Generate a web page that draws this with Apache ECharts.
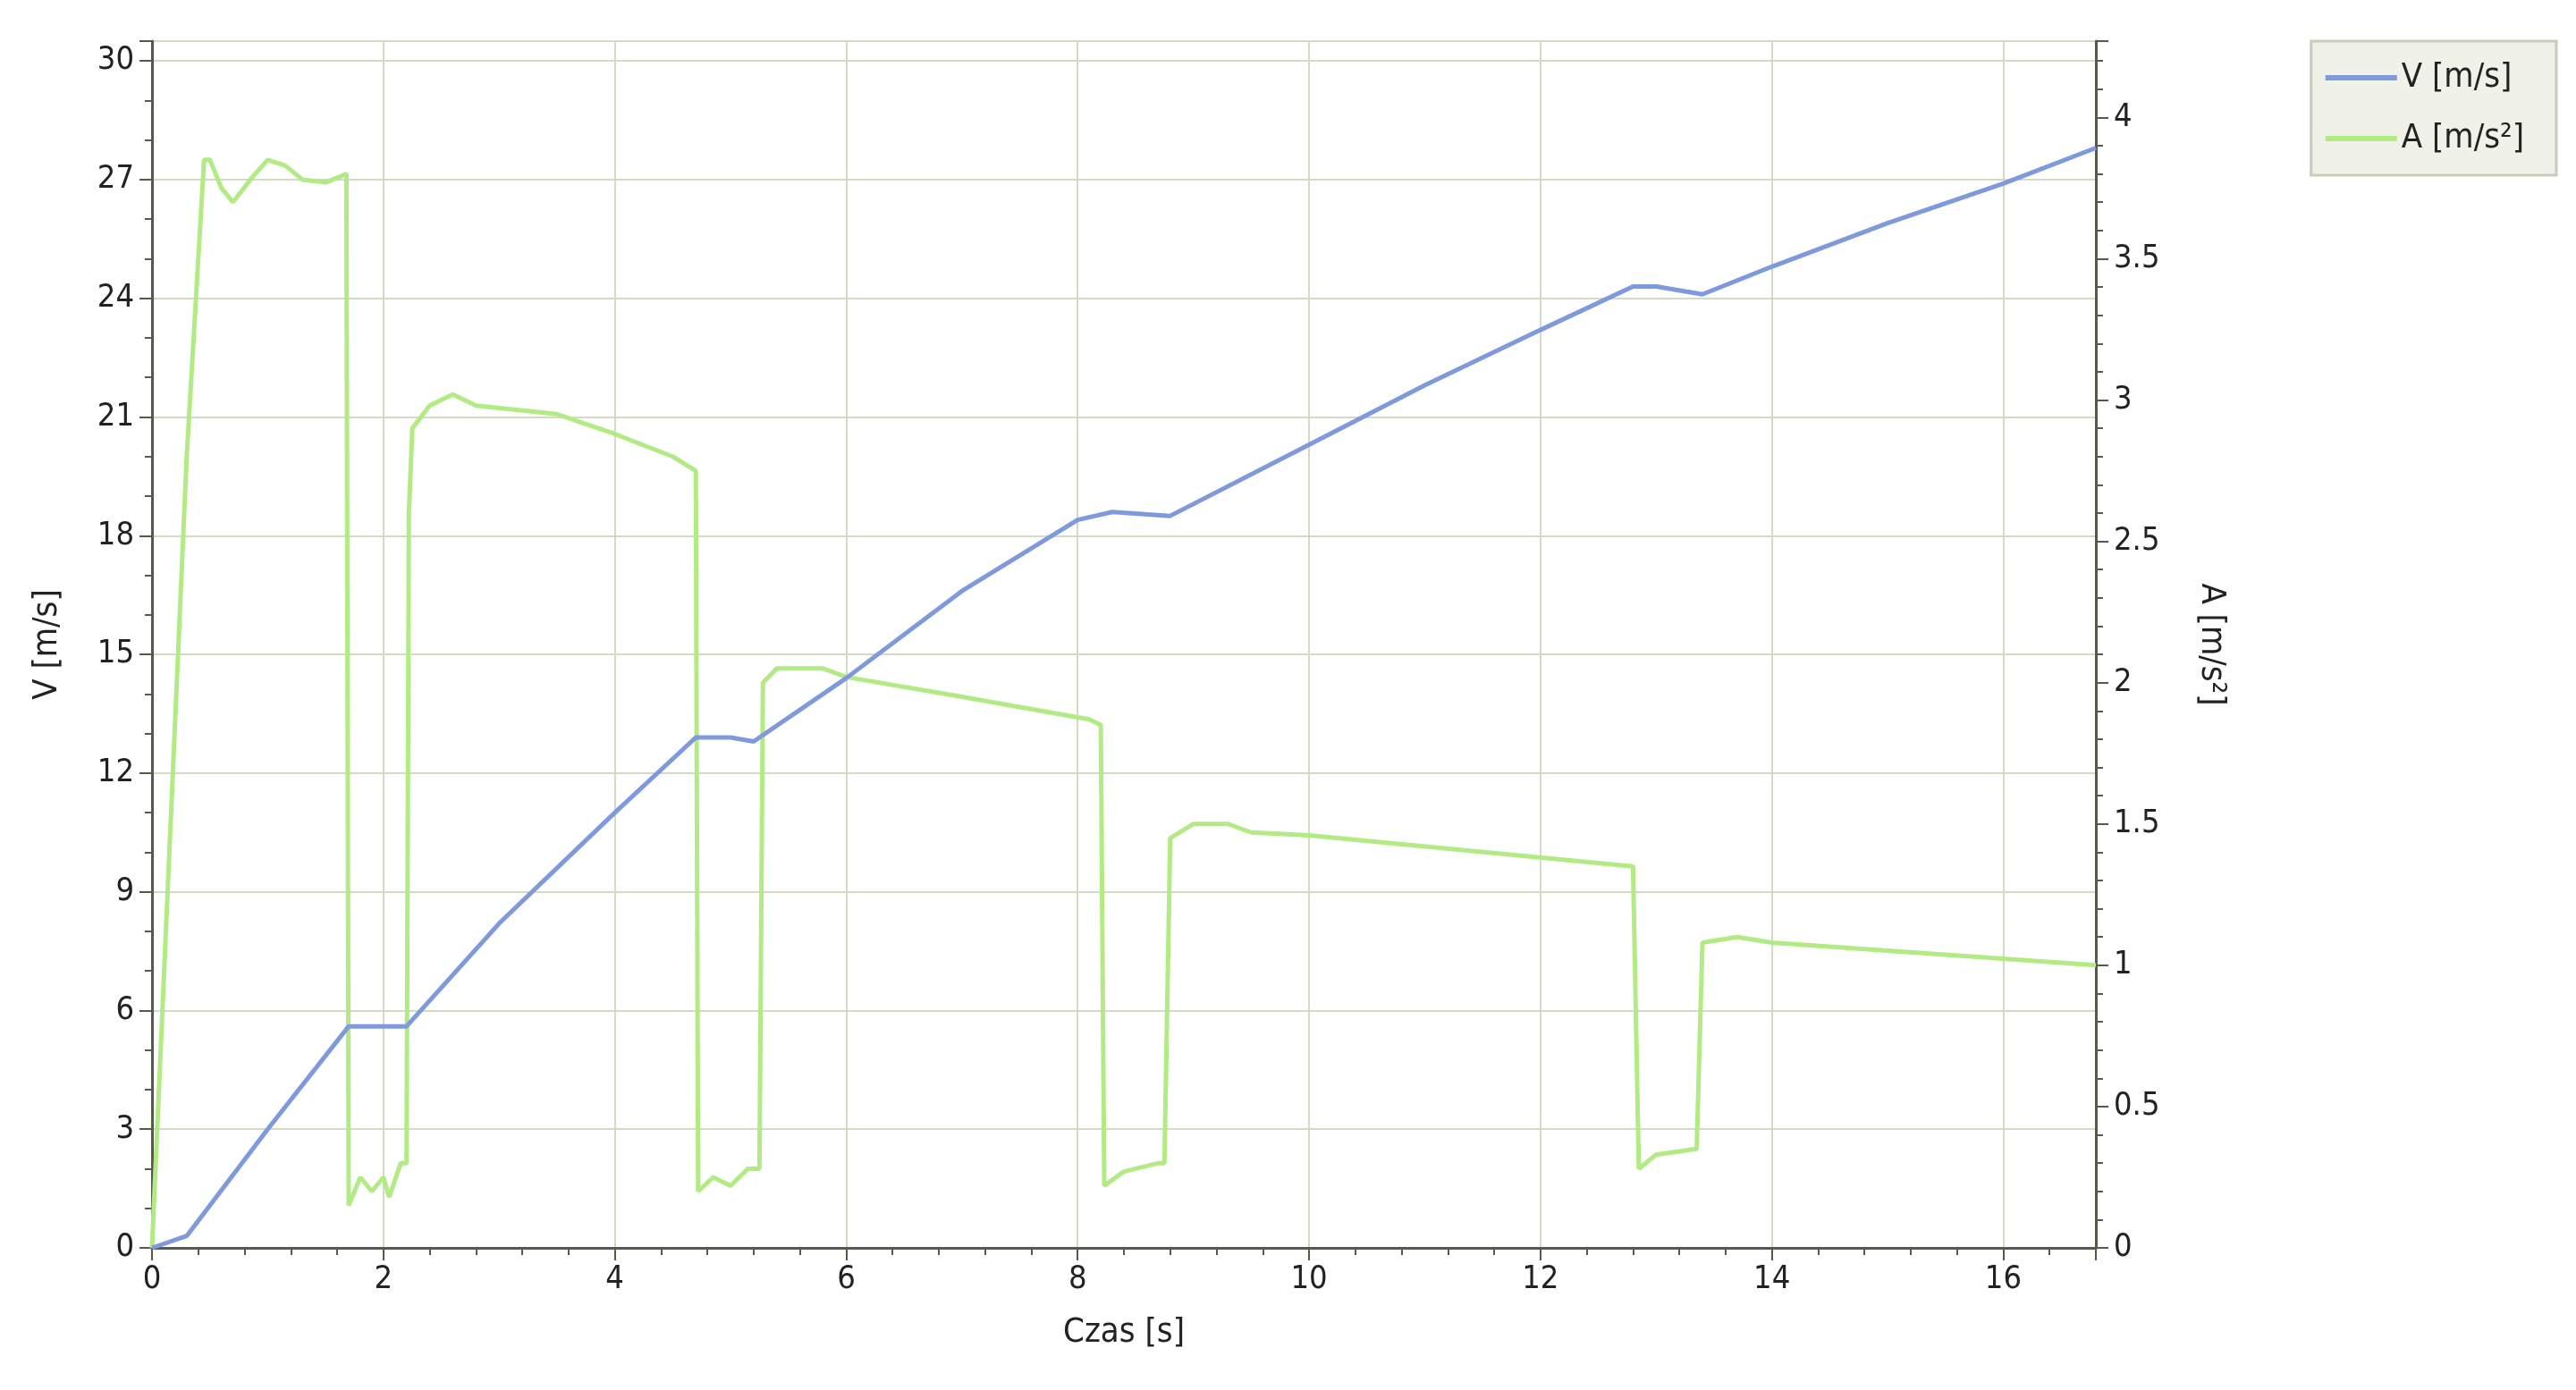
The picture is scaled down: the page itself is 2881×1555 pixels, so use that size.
<!DOCTYPE html>
<html><head><meta charset="utf-8">
<script src="https://cdn.jsdelivr.net/npm/echarts@6/dist/echarts.min.js"></script>
<style>html,body{margin:0;background:#fff}#c{width:2881px;height:1555px}</style>
</head><body><div id="c"></div>
<script>
const vTime = [0,0.3,1.0,1.7,2.2,3,4,4.7,5,5.2,6,7,8,8.3,8.8,10,11,12,12.8,13,13.4,14,15,16,16.8];
const vVals = [0,0.3,3.0,5.6,5.6,8.2,11.0,12.9,12.9,12.8,14.4,16.6,18.4,18.6,18.5,20.3,21.8,23.2,24.3,24.3,24.1,24.8,25.9,26.9,27.8];
const aTime = [0,0.3,0.45,0.5,0.6,0.7,0.85,1.0,1.15,1.3,1.5,1.68,1.7,1.8,1.9,2.0,2.05,2.15,2.2,2.22,2.25,2.4,2.6,2.8,3.5,4.0,4.5,4.7,4.72,4.85,5.0,5.15,5.25,5.28,5.4,5.8,6,7,8.1,8.2,8.23,8.4,8.7,8.75,8.8,9.0,9.3,9.5,10,12.8,12.85,13.0,13.35,13.4,13.7,14,16.8];
const aVals = [0,2.8,3.85,3.85,3.75,3.7,3.78,3.85,3.83,3.78,3.77,3.8,0.15,0.25,0.2,0.25,0.18,0.3,0.3,2.6,2.9,2.98,3.02,2.98,2.95,2.88,2.8,2.75,0.2,0.25,0.22,0.28,0.28,2.0,2.05,2.05,2.02,1.95,1.87,1.85,0.22,0.27,0.3,0.3,1.45,1.5,1.5,1.47,1.46,1.35,0.28,0.33,0.35,1.08,1.1,1.08,1.0];
const names = ['V [m/s]','A [m/s²]'];
const F = 'DejaVu Sans Condensed';
const gl = {show:true,lineStyle:{color:'#d5d9c6',width:2}};
const al = {show:true,lineStyle:{color:'#555a4a',width:3}};
const lab = {fontFamily:F,fontSize:36,color:'#222'};
const chart = echarts.init(document.getElementById('c'));
chart.setOption({
  animation:false,
  backgroundColor:'#fff',
  grid:{left:170,right:537,top:46,bottom:159},
  legend:{right:22,top:46,orient:'vertical',itemWidth:80,itemHeight:6,itemGap:30,padding:[22,36,22,16],
    backgroundColor:'#f0f1e7',borderColor:'#c9ccbb',borderWidth:3,textStyle:{fontFamily:F,fontSize:38,color:'#222'},
    icon:'rect',data:names},
  xAxis:{type:'value',min:0,max:16.8,interval:2,name:'Czas [s]',nameLocation:'middle',nameGap:76,
    nameTextStyle:{fontFamily:F,fontSize:38,color:'#222'},
    axisLine:{...al,onZero:false},axisTick:{show:true,length:14,lineStyle:{color:'#555a4a',width:2}},
    minorTick:{show:true,splitNumber:5,length:8,lineStyle:{color:'#555a4a',width:2}},
    splitLine:gl,axisLabel:{...lab,margin:18,showMaxLabel:false}},
  yAxis:[
   {type:'value',min:0,max:30.5,interval:3,name:'V [m/s]',nameLocation:'middle',nameGap:98,nameRotate:90,
    nameTextStyle:{fontFamily:F,fontSize:38,color:'#222'},
    axisLine:al,axisTick:{show:true,length:14,lineStyle:{color:'#555a4a',width:2}},
    minorTick:{show:true,splitNumber:3,length:8,lineStyle:{color:'#555a4a',width:2}},
    splitLine:gl,axisLabel:{...lab,margin:20,showMaxLabel:false}},
   {type:'value',min:0,max:4.27,interval:0.5,name:'A [m/s²]',nameLocation:'middle',nameGap:110,nameRotate:-90,
    nameTextStyle:{fontFamily:F,fontSize:38,color:'#222'},position:'right',
    axisLine:al,axisTick:{show:true,length:14,lineStyle:{color:'#555a4a',width:2}},
    minorTick:{show:true,splitNumber:5,length:8,lineStyle:{color:'#555a4a',width:2}},
    splitLine:{show:false},axisLabel:{...lab,margin:20,showMaxLabel:false}}
  ],
  series:[
   {name:names[0],type:'line',yAxisIndex:0,showSymbol:false,data:vTime.map((t,i)=>[t,vVals[i]]),
    lineStyle:{color:'#7f99dd',width:5},itemStyle:{color:'#7f99dd'},z:3},
   {name:names[1],type:'line',yAxisIndex:1,showSymbol:false,data:aTime.map((t,i)=>[t,aVals[i]]),
    lineStyle:{color:'#b2ea84',width:5},itemStyle:{color:'#b2ea84'},z:2}
  ]
});
</script></body></html>
